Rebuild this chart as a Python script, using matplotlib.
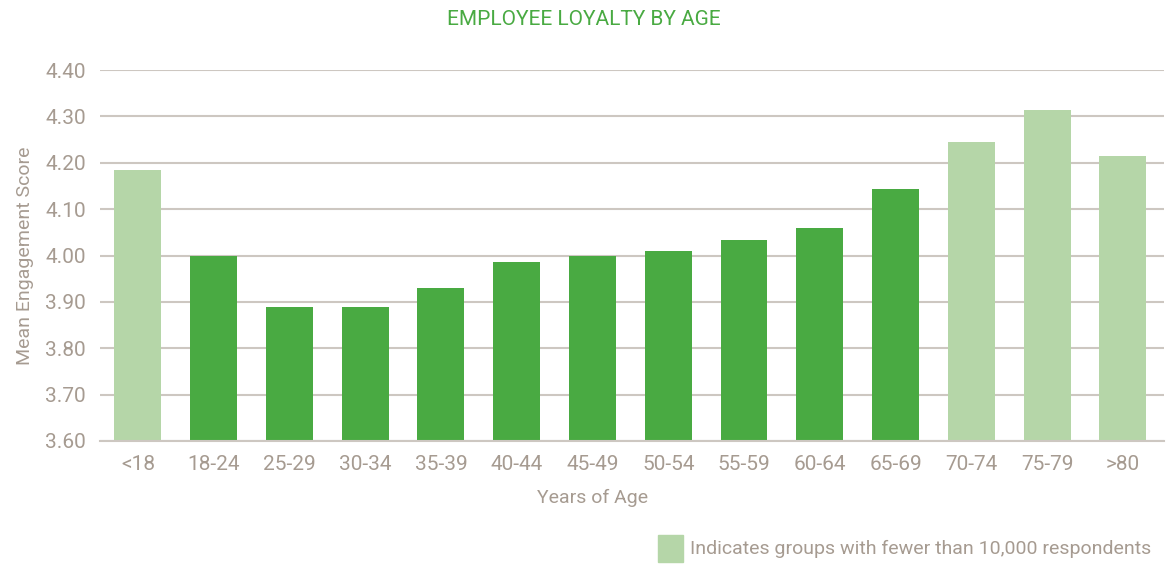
import matplotlib
matplotlib.use('Agg')
import matplotlib.pyplot as plt
from matplotlib.patches import Rectangle

plt.rcParams['font.family'] = ['Roboto', 'DejaVu Sans']

# 資料
ages = ['<18', '18-24', '25-29', '30-34', '35-39', '40-44', '45-49', '50-54',
        '55-59', '60-64', '65-69', '70-74', '75-79', '>80']
scores = [4.185, 4.00, 3.89, 3.89, 3.93, 3.985, 4.00, 4.01, 4.033, 4.06, 4.143, 4.245, 4.313, 4.215]
small_group = [True, False, False, False, False, False, False, False,
               False, False, False, True, True, True]
yticks = [3.60, 3.70, 3.80, 3.90, 4.00, 4.10, 4.20, 4.30, 4.40]

dark = '#49aa42'
light = '#b5d6a8'
txt = '#a69b91'
grid = '#cdc7c1'

fig = plt.figure(figsize=(11.68, 5.65), dpi=100)
ax = fig.add_axes([0.0856, 0.2195, 0.9114, 0.6565])

colors = [light if s else dark for s in small_group]
ax.bar(range(len(ages)), [s - 3.6 for s in scores], bottom=3.6, width=0.62, color=colors, zorder=2)

ax.set_ylim(3.6, 4.4)
ax.set_xlim(-0.5, 13.55)
ax.set_yticks(yticks)
ax.set_yticklabels(['%.2f' % v for v in yticks])
ax.set_xticks(range(len(ages)))
ax.set_xticklabels(ages)
ax.tick_params(axis='both', length=0, labelsize=15, colors=txt)
ax.tick_params(axis='x', pad=10)
ax.tick_params(axis='y', pad=10)
ax.yaxis.grid(True, color=grid, linewidth=1.5, zorder=0)
ax.set_axisbelow(True)
for s in ['top', 'right', 'left']:
    ax.spines[s].set_visible(False)
ax.spines['bottom'].set_color(grid)
ax.spines['bottom'].set_linewidth(1.5)

ax.set_xlabel('Years of Age', fontsize=14, color=txt)
ax.xaxis.set_label_coords(0.463, -0.13)
ax.set_ylabel('Mean Engagement Score', fontsize=14, color=txt, labelpad=8)

fig.text(0.5, 0.965, 'EMPLOYEE LOYALTY BY AGE', ha='center', va='center', fontsize=15, color=dark)

# 圖例
fig.patches.append(Rectangle((658 / 1168, 1 - 562 / 565), 25 / 1168, 27 / 565,
                             transform=fig.transFigure, color=light))
fig.text(690 / 1168, 1 - 549 / 565, 'Indicates groups with fewer than 10,000 respondents',
         ha='left', va='center', fontsize=14, color=txt)

plt.savefig('out.png', dpi=100)
